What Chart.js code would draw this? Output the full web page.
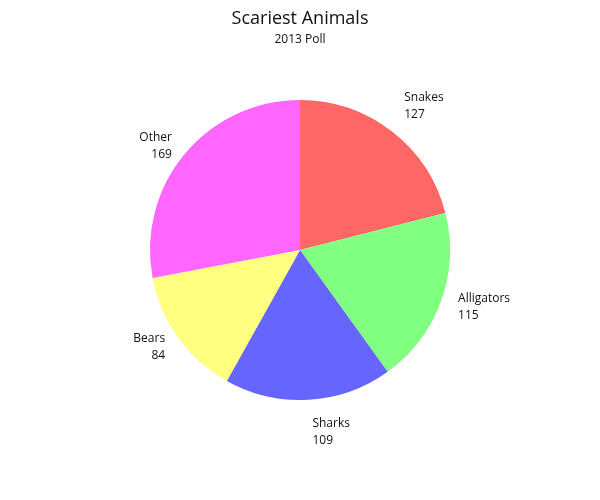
<!DOCTYPE html>
<html>
<head>
<meta charset="utf-8">
<script src="https://cdn.jsdelivr.net/npm/chart.js@4/dist/chart.umd.min.js"></script>
<style>
html,body{margin:0;padding:0;background:#fff;}
#wrap{width:600px;height:500px;}
</style>
</head>
<body>
<div id="wrap"><canvas id="c" width="600" height="500"></canvas></div>
<script>
const categories = ["Snakes", "Alligators", "Sharks", "Bears", "Other"];
const values = [127, 115, 109, 84, 169];
const colors = ["#ff6666", "#80ff80", "#6666ff", "#ffff80", "#ff66ff"];
const titleText = "Scariest Animals";
const subtitleText = "2013 Poll";

const FONT = "'Open Sans', sans-serif";
const TEXT_COLOR = "#111";
const LINE_GAP = 17;

const outsideLabels = {
  id: "outsideLabels",
  afterDatasetsDraw(chart) {
    const ctx = chart.ctx;
    const meta = chart.getDatasetMeta(0);
    ctx.save();
    ctx.font = "12px " + FONT;
    ctx.fillStyle = TEXT_COLOR;
    ctx.textBaseline = "middle";
    meta.data.forEach((arc, i) => {
      const p = arc.getProps(["x", "y", "startAngle", "endAngle", "outerRadius"], true);
      const a = (p.startAngle + p.endAngle) / 2;
      const R = p.outerRadius + 15;
      const right = Math.cos(a) >= 0;
      let ex = p.x + Math.cos(a) * R + (right ? 3 : -1);
      let cy = p.y + Math.sin(a) * R + 1;
      const half = LINE_GAP - 1;
      const dx = Math.abs(ex - p.x);
      if (dx < 0.75 * R) {
        // push the box vertically so its inner corner clears the pie
        const need = Math.sqrt(R * R - dx * dx);
        if (Math.sin(a) < 0) cy = p.y - need - half;
        else cy = p.y + need + half + 2;
      }
      ctx.textAlign = right ? "left" : "right";
      ctx.fillText(categories[i], ex, cy - LINE_GAP / 2);
      ctx.fillText(String(values[i]), ex, cy + LINE_GAP / 2);
    });
    ctx.restore();
  }
};

new Chart(document.getElementById("c"), {
  type: "pie",
  data: {
    labels: categories,
    datasets: [{
      data: values,
      backgroundColor: colors,
      borderWidth: 0,
      hoverOffset: 0
    }]
  },
  options: {
    responsive: false,
    animation: false,
    layout: { padding: { left: 0, right: 0, top: 0, bottom: 100 } },
    plugins: {
      legend: { display: false },
      tooltip: { enabled: false },
      title: {
        display: true,
        text: titleText,
        color: TEXT_COLOR,
        font: { family: FONT, size: 18, weight: "normal" },
        padding: { top: 8, bottom: 0 }
      },
      subtitle: {
        display: true,
        text: subtitleText,
        color: TEXT_COLOR,
        font: { family: FONT, size: 12, weight: "normal" },
        padding: { top: 3, bottom: 53 }
      }
    }
  },
  plugins: [outsideLabels]
});
</script>
</body>
</html>
